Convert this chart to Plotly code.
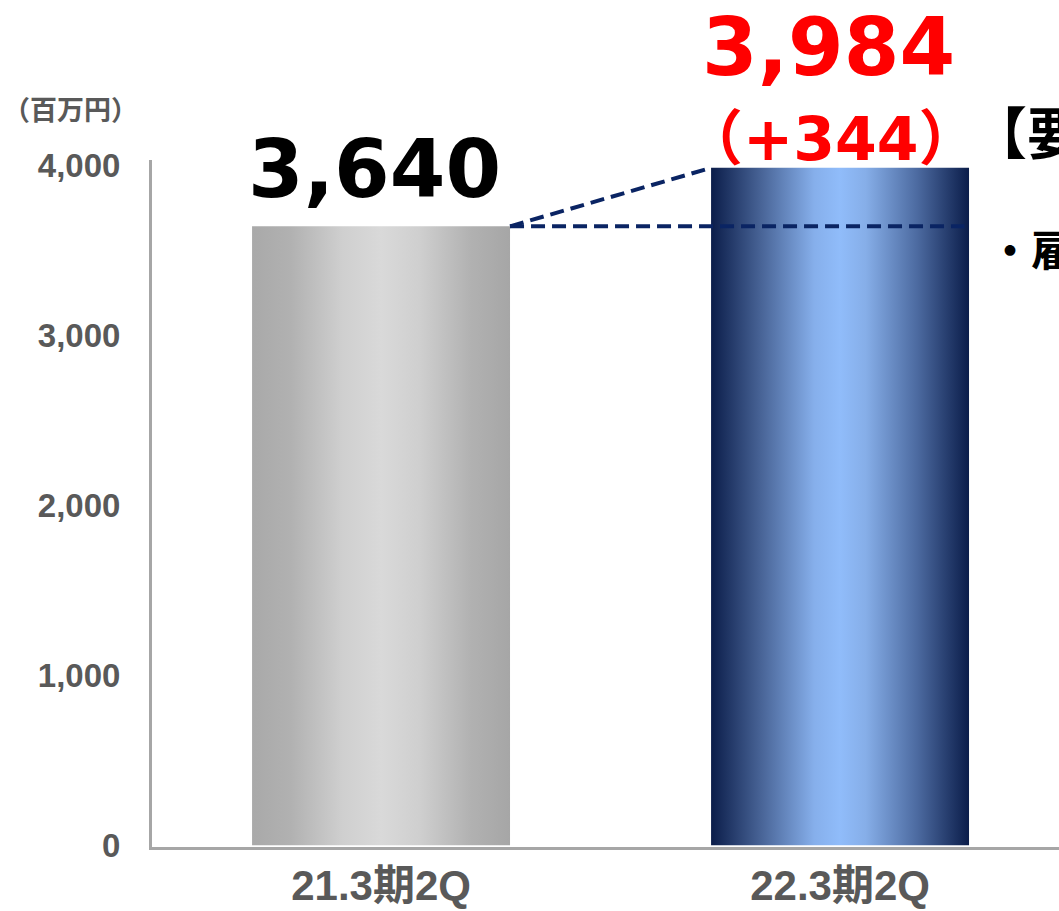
import plotly.graph_objects as go

# Data
categories = ["21.3期2Q", "22.3期2Q"]
values = [3640, 3984]
diff_label = "（+344）"
unit_label = "（百万円）"
y_ticks = [0, 1000, 2000, 3000, 4000]
y_tick_text = ["0", "1,000", "2,000", "3,000", "4,000"]
side_title = "【要因】"
side_bullet = "・雇用"

BAR_W = 0.562
GRAY = "#595959"
NAVY = "#0a2463"

gray_scale = [[0, "#a9a9a9"], [0.15, "#b1b1b1"], [0.35, "#cfcfcf"], [0.5, "#d9d9d9"],
              [0.65, "#cfcfcf"], [0.85, "#b1b1b1"], [1, "#a6a6a6"]]
blue_scale = [[0, "#0b1d4a"], [0.2, "#4a6699"], [0.4, "#86afeb"], [0.5, "#90bcfa"],
              [0.6, "#86aee8"], [0.8, "#4c6aa0"], [1, "#0b1d4a"]]
scales = [gray_scale, blue_scale]

fig = go.Figure()

# Bars drawn as filled rectangles so they can carry a horizontal gradient
for i, v in enumerate(values):
    x0, x1 = i - BAR_W / 2, i + BAR_W / 2
    fig.add_trace(go.Scatter(
        x=[x0, x0, x1, x1, x0], y=[0, v, v, 0, 0],
        mode="lines", line=dict(width=0), fill="toself",
        fillgradient=dict(type="horizontal", colorscale=scales[i]),
        hoverinfo="skip", showlegend=False,
    ))

# Dashed comparison lines from the first bar's top
x_right0 = 0 + BAR_W / 2
x_left1 = 1 - BAR_W / 2
x_right1 = 1 + BAR_W / 2
dash_line = dict(color=NAVY, width=4, dash="14px,7px")
fig.add_shape(type="line", x0=x_right0, y0=values[0], x1=x_right1 - 0.01, y1=values[0],
              line=dash_line)
fig.add_shape(type="line", x0=x_right0, y0=values[0], x1=x_left1, y1=values[1],
              line=dash_line)

# Value labels
fig.add_annotation(x=0 - 0.015, y=values[0], yshift=8, text=f"{values[0]:,}",
                   showarrow=False, yanchor="bottom",
                   font=dict(family="DejaVu Sans", size=80, color="black", weight="bold"))
fig.add_annotation(x=1 - 0.025, y=1.0, yref="paper", yshift=64, text=f"{values[1]:,}",
                   showarrow=False, yanchor="bottom",
                   font=dict(family="DejaVu Sans", size=80, color="#ff0000", weight="bold"))
fig.add_annotation(x=1 - 0.02, y=1.0, yref="paper", yshift=-16, text=diff_label,
                   showarrow=False, yanchor="bottom",
                   font=dict(family="DejaVu Sans, Noto Sans CJK JP", size=60, color="#ff0000",
                             weight="bold"))

# Unit label above the value axis
fig.add_annotation(x=0, y=1.0, xref="paper", yref="paper", xshift=-82, yshift=52,
                   xanchor="center", yanchor="middle", text=unit_label, showarrow=False,
                   font=dict(family="Noto Sans CJK JP", size=27, color=GRAY, weight="bold"))

# Side notes (continuing past the right edge)
fig.add_annotation(x=1.0, y=1.0, xref="paper", yref="paper", xshift=-90, yshift=-12,
                   text=side_title, showarrow=False, xanchor="left", yanchor="bottom",
                   font=dict(family="Noto Sans CJK JP", size=56, color="black", weight="bold"))
fig.add_annotation(x=1.0, y=1.0, xref="paper", yref="paper", xshift=-72, yshift=-120,
                   text=side_bullet, showarrow=False, xanchor="left", yanchor="bottom",
                   font=dict(family="Noto Sans CJK JP", size=42, color="black", weight="bold"))

fig.update_layout(
    width=1059, height=911,
    margin=dict(l=152, r=0, t=160, b=64),
    paper_bgcolor="white", plot_bgcolor="white",
    showlegend=False,
    xaxis=dict(
        range=[-0.499, 1.477], tickmode="array", tickvals=[0, 1], ticktext=categories,
        showgrid=False, zeroline=False, showline=True, linecolor="#a6a6a6", linewidth=3,
        ticks="", ticklabelstandoff=0, automargin=False,
        tickfont=dict(family="Liberation Sans, Noto Sans CJK JP", size=42, color=GRAY,
                      weight="bold"),
    ),
    yaxis=dict(
        range=[-10, 4030], tickmode="array", tickvals=y_ticks, ticktext=y_tick_text,
        showgrid=False, zeroline=False, showline=True, linecolor="#a6a6a6", linewidth=3,
        ticks="", ticklabelstandoff=22, automargin=False,
        tickfont=dict(family="Liberation Sans", size=33, color=GRAY, weight="bold"),
    ),
)

fig.write_html("out.html")
